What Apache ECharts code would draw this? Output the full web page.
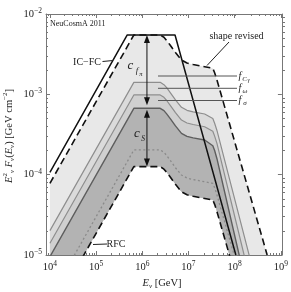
<!DOCTYPE html>
<html><head><meta charset="utf-8">
<script src="https://cdn.jsdelivr.net/npm/echarts@6/dist/echarts.min.js"></script>
<style>html,body{margin:0;padding:0;background:#fff}#c{width:291px;height:292px}</style>
</head><body><div id="c"></div>
<script>
// ---- data (E in GeV, E^2 F in GeV cm^-2) ----
const energyGeV = [1e4, 6.56e5, 2.44e6, 2.94e6, 3.37e6, 3.99e6, 5.22e6, 7.05e6, 9.27e6, 1.26e7, 2.24e7, 3.36e7, 3.68e7, 4.13e7, 5.05e8];
const fluxShapeRevised = [7.80e-5, 5.48e-3, 5.48e-3, 5.13e-3, 4.68e-3, 4.11e-3, 3.31e-3, 2.67e-3, 2.45e-3, 2.35e-3, 2.21e-3, 2.11e-3, 1.86e-3, 1.51e-3, 1.0e-5];
const fluxFCgamma = [2.01e-5, 1.41e-3, 1.41e-3, 1.32e-3, 1.21e-3, 1.06e-3, 8.53e-4, 6.89e-4, 6.32e-4, 6.05e-4, 5.69e-4, 5.01e-4, 4.37e-4, 3.55e-4, 1.35e-6];
const fluxFomega = [1.40e-5, 9.82e-4, 9.82e-4, 9.18e-4, 8.38e-4, 7.36e-4, 5.93e-4, 4.79e-4, 4.40e-4, 4.21e-4, 3.95e-4, 3.47e-4, 3.02e-4, 2.45e-4, 6.61e-7];
const fluxFsigma = [9.53e-6, 6.70e-4, 6.70e-4, 6.27e-4, 5.71e-4, 5.02e-4, 4.05e-4, 3.27e-4, 3.00e-4, 2.87e-4, 2.70e-4, 2.29e-4, 2.00e-4, 1.58e-4, 3.09e-7];
const fluxDotted = [2.88e-6, 2.03e-4, 2.03e-4, 1.90e-4, 1.73e-4, 1.52e-4, 1.22e-4, 9.89e-5, 9.08e-5, 8.69e-5, 8.17e-5, 7.80e-5, 6.89e-5, 5.60e-5, 3.70e-7];
const fluxRFC = [1.79e-6, 1.26e-4, 1.26e-4, 1.17e-4, 1.07e-4, 9.42e-5, 7.59e-5, 6.12e-5, 5.62e-5, 5.38e-5, 5.06e-5, 4.83e-5, 4.27e-5, 3.47e-5, 2.29e-7];
const icfcEnergyGeV = [1e4, 4.72e5, 5.11e6, 1.06e8];
const icfcFlux = [1.07e-4, 5.48e-3, 5.48e-3, 1.0e-5];
const arrowEnergyGeV = [1.26e6, 1.26e6];
const arrowTopFlux = [5.48e-3, 6.45e-4];
const arrowBottomFlux = [7.3e-4, 1.26e-4];
const xTickExponents = [4, 5, 6, 7, 8, 9];
const yTickExponents = [-5, -4, -3, -2];

// ---- helpers ----
const XMIN = 3.915, XMAX = 9.022, YMIN = -5, YMAX = -2;
const serif = "'Liberation Serif','DejaVu Serif',serif";
const ink = '#222';
const frame = '#777';
const toXY = (E, F) => E.map((e, i) => [Math.log10(e), Math.log10(F[i])]);
function minorList(lo, hi, a, b) {
  const out = [];
  for (let n = a; n <= b; n++) for (let k = 2; k <= 9; k++) {
    const v = n + Math.log10(k);
    if (v > lo && v < hi) out.push(v);
  }
  return out;
}
const xMinor = minorList(XMIN, XMAX, 3, 9);
const yMinor = minorList(YMIN, YMAX, -6, -3);

function band(upE, upF, loE, loF, color) {
  const poly = toXY(upE, upF).concat(toXY(loE, loF).reverse());
  return {
    type: 'custom', coordinateSystem: 'cartesian2d', xAxisIndex: 0, yAxisIndex: 0,
    silent: true, clip: true, z: 1, data: [[6, -3]],
    renderItem(params, api) {
      const cs = params.coordSys;
      return {
        type: 'group',
        clipPath: { type: 'rect', shape: { x: cs.x, y: cs.y, width: cs.width, height: cs.height } },
        children: [{ type: 'polygon', shape: { points: poly.map(p => api.coord(p)) }, style: { fill: color, stroke: null } }]
      };
    }
  };
}
function curve(E, F, color, width, type, z) {
  return {
    type: 'line', xAxisIndex: 0, yAxisIndex: 0, data: toXY(E, F), showSymbol: false, symbol: 'none',
    silent: true, clip: true, z: z || 3, lineStyle: { color, width, type: type || 'solid', cap: 'butt' }
  };
}
const labelRich = {
  b: { fontSize: 10.5, fontFamily: serif, color: ink, lineHeight: 14 },
  s: { fontSize: 7.5, fontFamily: serif, color: ink, lineHeight: 8, verticalAlign: 'top' }
};
function axisX(pos, major, labels, grid) {
  return {
    type: 'value', gridIndex: grid, position: pos, min: XMIN, max: XMAX,
    axisLine: { show: major, onZero: false, lineStyle: { color: frame, width: 1 } },
    axisTick: { show: true, inside: true, length: major ? 4 : 2, customValues: major ? xTickExponents : xMinor, lineStyle: { color: frame, width: 1 } },
    axisLabel: labels ? { show: true, customValues: xTickExponents, margin: 5, formatter: v => '{b|10}{s|' + Math.round(v) + '}', rich: labelRich } : { show: false },
    splitLine: { show: false }
  };
}
function axisY(pos, major, labels, grid) {
  return {
    type: 'value', gridIndex: grid, position: pos, min: YMIN, max: YMAX,
    axisLine: { show: major, onZero: false, lineStyle: { color: frame, width: 1 } },
    axisTick: { show: true, inside: true, length: major ? 4 : 2, customValues: major ? yTickExponents : yMinor, lineStyle: { color: frame, width: 1 } },
    axisLabel: labels ? { show: true, customValues: yTickExponents, margin: 4, formatter: v => '{b|10}{s|\u2212' + Math.abs(Math.round(v)) + '}', rich: labelRich } : { show: false },
    splitLine: { show: false }
  };
}
function txt(x, y, text, size, italic, align) {
  return { type: 'text', x, y, z: 50, silent: true, style: { text, fontSize: size, fontFamily: serif, fontStyle: italic ? 'italic' : 'normal', fill: ink, align: align || 'center', verticalAlign: 'middle' } };
}
function seg(pts, color) {
  return { type: 'polyline', z: 49, silent: true, shape: { points: pts }, style: { stroke: color || ink, lineWidth: 1, fill: null } };
}

const gridBox = { left: 46, right: 6, top: 14, bottom: 37 };
const richTitle = {
  i: { fontStyle: 'italic', fontSize: 10.5, fontFamily: serif, fill: ink, lineHeight: 14 },
  sup: { fontSize: 7, fontFamily: serif, fill: ink, lineHeight: 8, verticalAlign: 'top' },
  sub: { fontSize: 7, fontStyle: 'italic', fontFamily: serif, fill: ink, lineHeight: 8, verticalAlign: 'bottom' }
};

const option = {
  animation: false,
  backgroundColor: '#fff',
  grid: [Object.assign({}, gridBox), Object.assign({}, gridBox)],
  xAxis: [axisX('bottom', true, true, 0), axisX('top', true, false, 0), axisX('bottom', false, false, 1), axisX('top', false, false, 1)],
  yAxis: [axisY('left', true, true, 0), axisY('right', true, false, 0), axisY('left', false, false, 1), axisY('right', false, false, 1)],
  series: [
    band(energyGeV, fluxShapeRevised, energyGeV, fluxRFC, '#e8e8e8'),
    band(energyGeV, fluxFCgamma, energyGeV, fluxRFC, '#dbdbdb'),
    band(energyGeV, fluxFomega, energyGeV, fluxRFC, '#d0d0d0'),
    band(energyGeV, fluxFsigma, energyGeV, fluxRFC, '#b3b3b3'),
    curve(energyGeV, fluxFCgamma, '#8e8e8e', 1.2),
    curve(energyGeV, fluxFomega, '#8e8e8e', 1.2),
    curve(energyGeV, fluxFsigma, '#5e5e5e', 1.4),
    curve(energyGeV, fluxDotted, '#8a8a8a', 1.3, [2, 2.5]),
    curve(energyGeV, fluxRFC, '#111', 1.6, [7, 4], 4),
    curve(energyGeV, fluxShapeRevised, '#111', 1.6, [7, 4], 4),
    curve(icfcEnergyGeV, icfcFlux, '#111', 1.5, 'solid', 5),
    {
      type: 'custom', coordinateSystem: 'cartesian2d', xAxisIndex: 0, yAxisIndex: 0, z: 6, silent: true,
      data: arrowEnergyGeV.map((e, i) => [Math.log10(e), Math.log10(arrowTopFlux[i]), Math.log10(arrowBottomFlux[i])]),
      encode: { x: 0, y: [1, 2] },
      renderItem(params, api) {
        const t = api.coord([api.value(0), api.value(1)]);
        const b = api.coord([api.value(0), api.value(2)]);
        const L = 8, W = 3, x = t[0];
        return { type: 'group', children: [
          { type: 'line', shape: { x1: x, y1: t[1] + 4, x2: x, y2: b[1] - 4 }, style: { stroke: '#111', lineWidth: 1 } },
          { type: 'polygon', shape: { points: [[x, t[1]], [x - W, t[1] + L], [x + W, t[1] + L]] }, style: { fill: '#111' } },
          { type: 'polygon', shape: { points: [[x, b[1]], [x - W, b[1] - L], [x + W, b[1] - L]] }, style: { fill: '#111' } }
        ] };
      }
    }
  ],
  graphic: [
    txt(50, 23.5, 'NeuCosmA 2011', 8, false, 'left'),
    txt(87, 62, 'IC\u2212FC', 10),
    seg([[102.5, 61.5], [113, 60.5]]),
    txt(236.5, 36, 'shape revised', 10),
    seg([[229, 42], [207, 65.5]]),
    txt(116, 244, 'RFC', 10),
    seg([[93, 244.5], [107, 244]]),
    txt(130.5, 66, 'c', 13, true), txt(137, 71, 'f', 9, true), txt(141, 74.5, '\u03c0', 6.5, true),
    txt(137, 134, 'c', 13, true), txt(143, 139, 'S', 7.5, true),
    seg([[158, 76], [237, 76]], '#555'),
    seg([[158, 88.3], [237, 88.3]], '#555'),
    seg([[158, 100.5], [237, 100.5]], '#555'),
    txt(240, 76, 'f', 10, true), txt(244.5, 79, 'C', 7, true), txt(248.5, 81, '\u03b3', 5.5, true),
    txt(240, 88.3, 'f', 10, true), txt(245, 91, '\u03c9', 7, true),
    txt(240, 100.5, 'f', 10, true), txt(245, 103, '\u03c3', 7, true),
    { type: 'text', x: 162, y: 283, z: 50, silent: true,
      style: { text: '{i|E}{sub|\u03bd} [GeV]', rich: richTitle, fontSize: 10.5, fontFamily: serif, fill: ink, align: 'center', verticalAlign: 'middle' } },
    { type: 'text', x: 9, y: 136, rotation: Math.PI / 2, z: 50, silent: true,
      style: { text: '{i|E}{sup|2}{sub|\u03bd} {i|F}{sub|\u03bd}({i|E}{sub|\u03bd}) [GeV cm{sup|\u22122}]', rich: richTitle, fontSize: 10.5, fontFamily: serif, fill: ink, align: 'center', verticalAlign: 'middle' } }
  ]
};
const chart = echarts.init(document.getElementById('c'), null, { renderer: 'canvas' });
chart.setOption(option);
</script>
</body></html>
